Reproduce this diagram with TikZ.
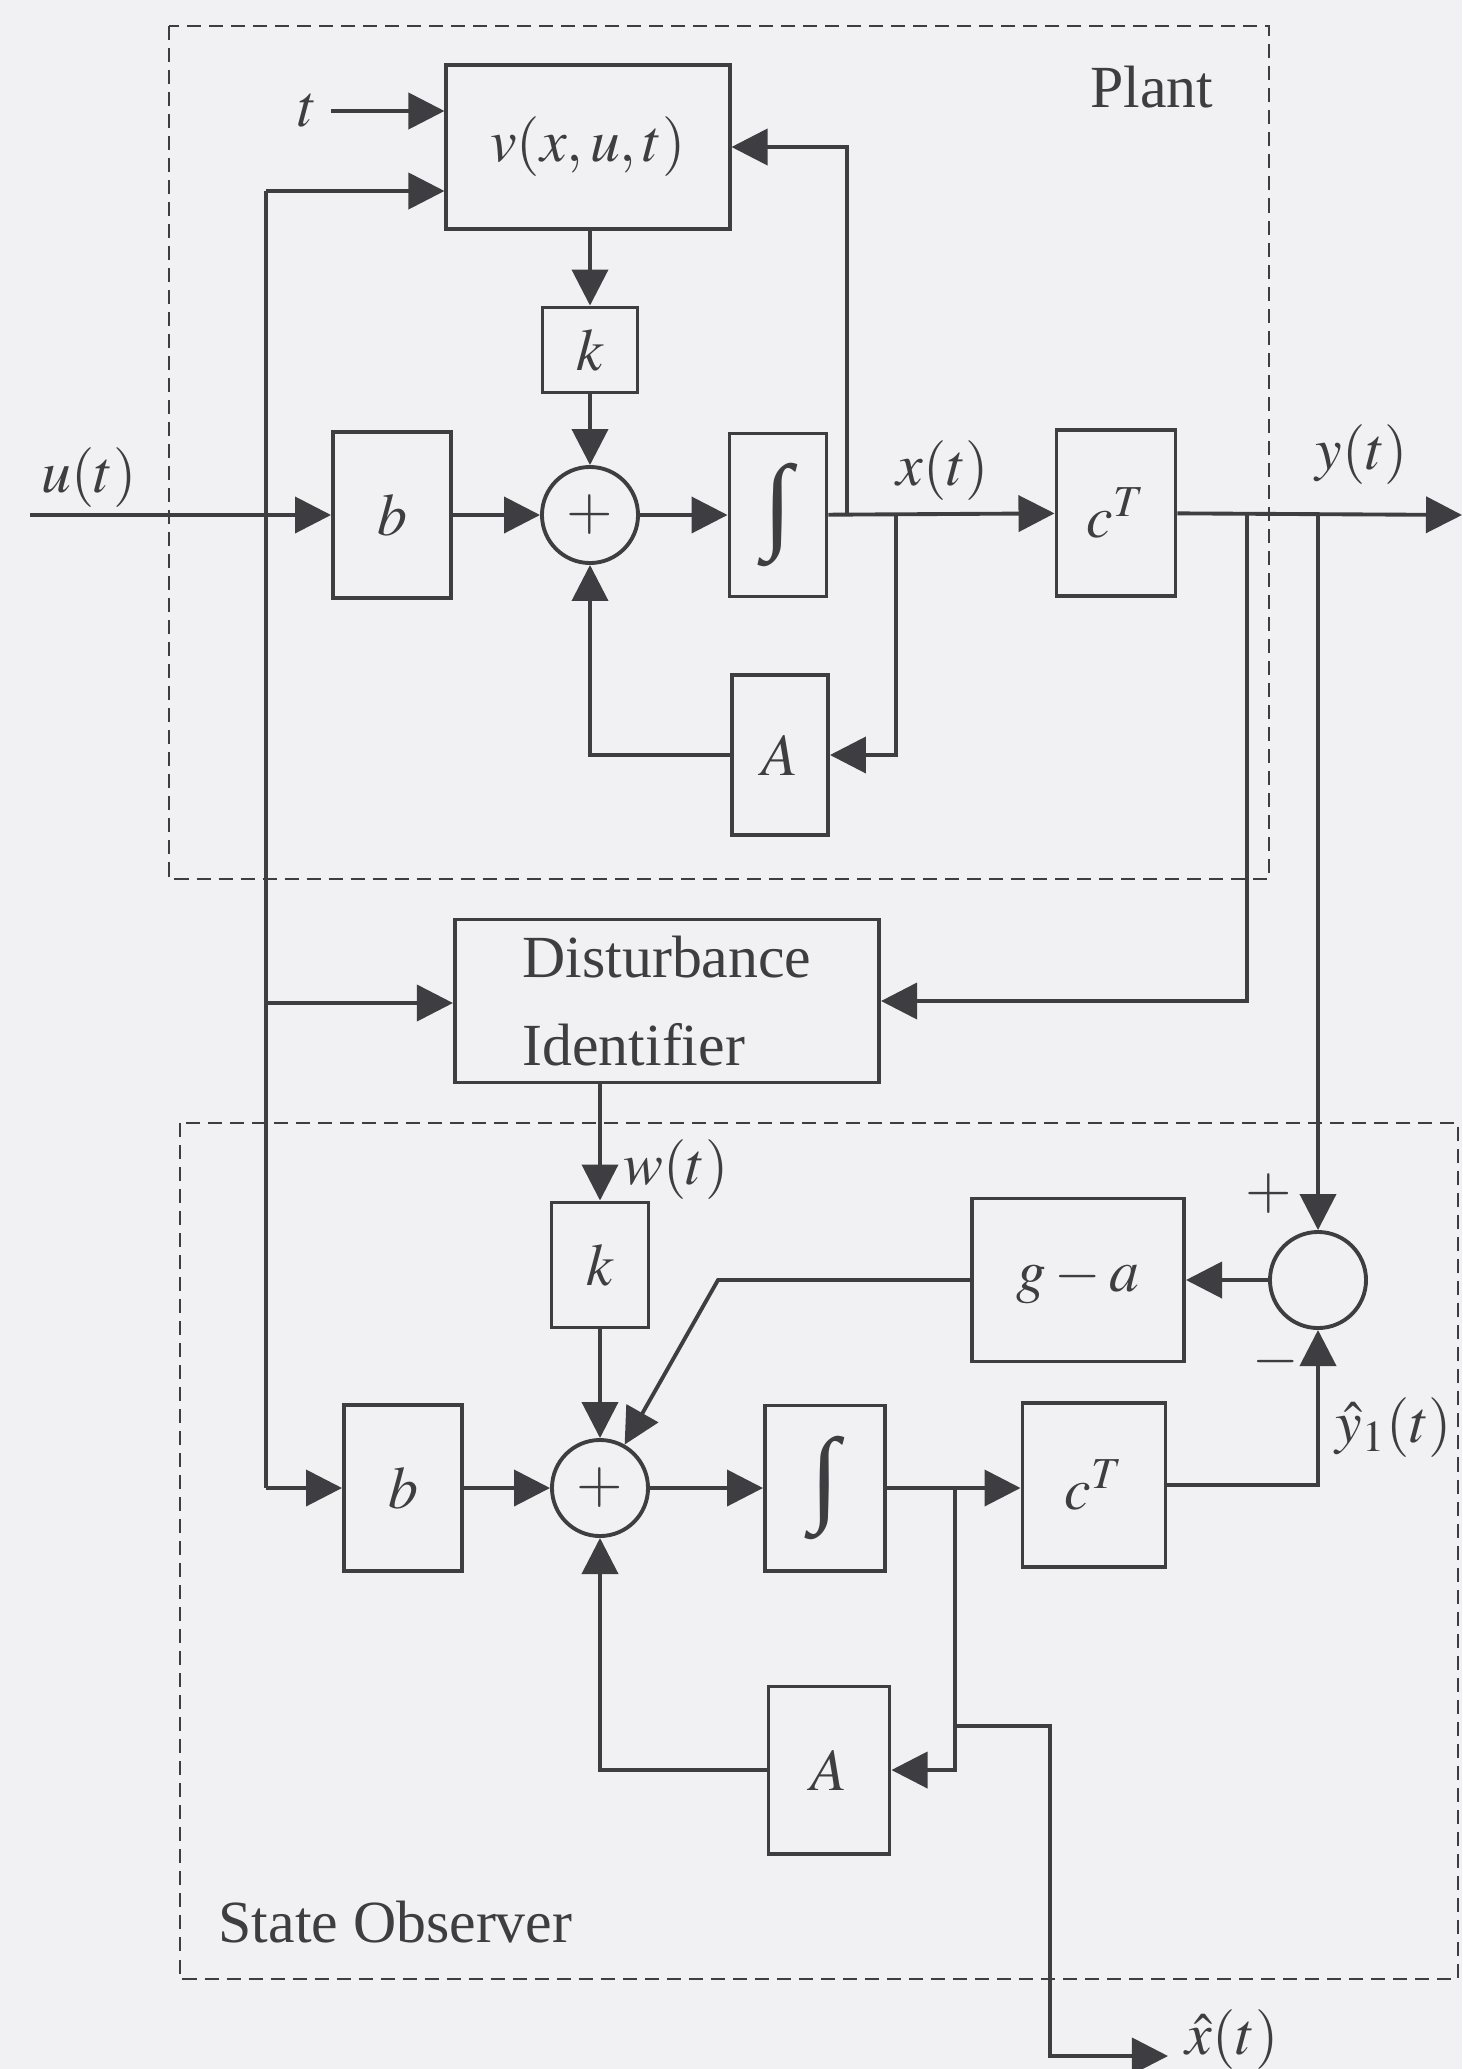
\documentclass[tikz,border=0pt]{standalone}
\usepackage{mathptmx}
\usepackage{fontspec}
\setmainfont{Liberation Serif}
\usetikzlibrary{arrows.meta,positioning,calc}
\definecolor{inkc}{RGB}{62,62,66}
\definecolor{paperc}{RGB}{241,241,243}
\newcommand{\intsym}{{\fontsize{30}{30}\selectfont ∫}}

\begin{document}
\begin{tikzpicture}[x=0.01cm,y=-0.01cm,color=inkc,line width=1.1pt,
    font=\fontsize{17}{25}\selectfont,
    blk/.style 2 args={draw,inner sep=0pt,minimum width=#1,minimum height=#2},
    sumc/.style={draw,circle,inner sep=0pt,minimum size=0.96cm},
    arr/.style={-{Triangle[length=3.6mm,width=3.6mm]}},
    dframe/.style={line width=0.65pt,dash pattern=on 1.4mm off 0.8mm}]
    \useasboundingbox (0,0) rectangle (1462,2069);
    \fill[paperc] (0,0) rectangle (1462,2069);
    \draw[dframe] (169,26) rectangle (1269,879);
    \draw[dframe] (180,1123) rectangle (1458,1979);
    % plant
    \node[blk={2.83cm}{1.64cm}] (vfun) at (588,147) {$v(x,u,t)$};
    \node (tin) at (308,111) {$t$};
    \node[blk={0.95cm}{0.85cm}] (pk) at (590,350) {$k$};
    \node[sumc] (psum) at (590,515) {$+$};
    \node[blk={1.18cm}{1.66cm}] (pb) at (392,515) {$b$};
    \node[blk={0.97cm}{1.63cm}] (pint) at (778,515) {\intsym};
    \node[blk={0.96cm}{1.60cm}] (pA) at (780,755) {$A$};
    \node[blk={1.19cm}{1.66cm}] (pc) at (1116,513) {$c^T$};
    \node (plab) at (1152,87) {Plant};
    \node (ulab) at (89,478) {$u(t)$};
    \node (xlab) at (943,471) {$x(t)$};
    \node (ylab) at (1362,455) {$y(t)$};
    \coordinate (uin) at (30,515);
    \coordinate (ltop) at (266,191);
    \coordinate (lbot) at (266,1488);
    \coordinate (ld) at (266,1003);
    \coordinate (jx1) at (847,515);
    \coordinate (jx2) at (896,515);
    \coordinate (jy1) at (1247,515);
    \coordinate (jy2) at (1318,515);
    \coordinate (yout) at (1462,515);
    % identifier
    \node[blk={4.24cm}{1.63cm},align=left] (dist) at (667,1001) {Disturbance\\Identifier};
    % observer
    \node[blk={0.97cm}{1.25cm}] (ok) at (600,1265) {$k$};
    \node (wlab) at (676,1170) {$w(t)$};
    \node[sumc] (osum) at (600,1488) {$+$};
    \node[blk={1.18cm}{1.66cm}] (ob) at (403,1488) {$b$};
    \node[blk={1.20cm}{1.65cm}] (oint) at (825,1488) {\intsym};
    \node[blk={1.43cm}{1.64cm}] (oc) at (1094,1485) {$c^T$};
    \node[blk={1.21cm}{1.67cm}] (oA) at (829,1770) {$A$};
    \node[blk={2.12cm}{1.63cm}] (ga) at (1078,1280) {$g-a$};
    \node[sumc] (cmp) at (1318,1280) {};
    \node (plus) at (1269,1194) {$+$};
    \node (minus) at (1276,1362) {$-$};
    \node[anchor=west,inner sep=0pt] (yhlab) at (1334,1428) {$\hat{y}_1(t)$};
    \node[anchor=west,inner sep=0pt] (xhat) at (1184,2040) {$\hat{x}(t)$};
    \node[anchor=west] (olab) at (205,1922) {State Observer};
    \coordinate (jo1) at (955,1488);
    \coordinate (jo2) at (955,1726);
    \coordinate (xc) at (1050,2056);
    \coordinate (gc) at (718,1280);
    % plant connectors
    \draw[arr] (tin) -- (tin -| vfun.west);
    \draw[arr] (ltop) -- (ltop -| vfun.west);
    \draw (ltop) -- (lbot);
    \draw[arr] (uin) -- (pb);
    \draw[arr] (vfun.south -| pk) -- (pk);
    \draw[arr] (pk) -- (psum);
    \draw[arr] (pb) -- (psum);
    \draw[arr] (psum) -- (pint);
    \draw[arr] (pint) -- (pc);
    \draw[arr] (jx1) |- (vfun.east);
    \draw[arr] (jx2) |- (pA.east);
    \draw[arr] (pA) -| (psum);
    \draw[arr] (pc) -- (yout);
    \draw[arr] (jy1) |- (dist);
    \draw[arr] (jy2) -- (cmp);
    % observer connectors
    \draw[arr] (ld) -- (ld -| dist.west);
    \draw[arr] (dist.south -| ok) -- (ok);
    \draw[arr] (ok) -- (osum);
    \draw[arr] (lbot) -- (ob);
    \draw[arr] (ob) -- (osum);
    \draw[arr] (osum) -- (oint);
    \draw[arr] (oint) -- (oint -| oc.west);
    \draw[arr] (jo1) |- (oA);
    \draw[arr] (oA) -| (osum);
    \draw[arr] (jo2) -| (xc) -- ($(xhat.west |- xc)+(-16,0)$);
    \draw[arr] (oc) -| (cmp);
    \draw[arr] (cmp) -- (ga);
    \draw[arr] (ga) -- (gc) -- (osum);
\end{tikzpicture}
\end{document}
